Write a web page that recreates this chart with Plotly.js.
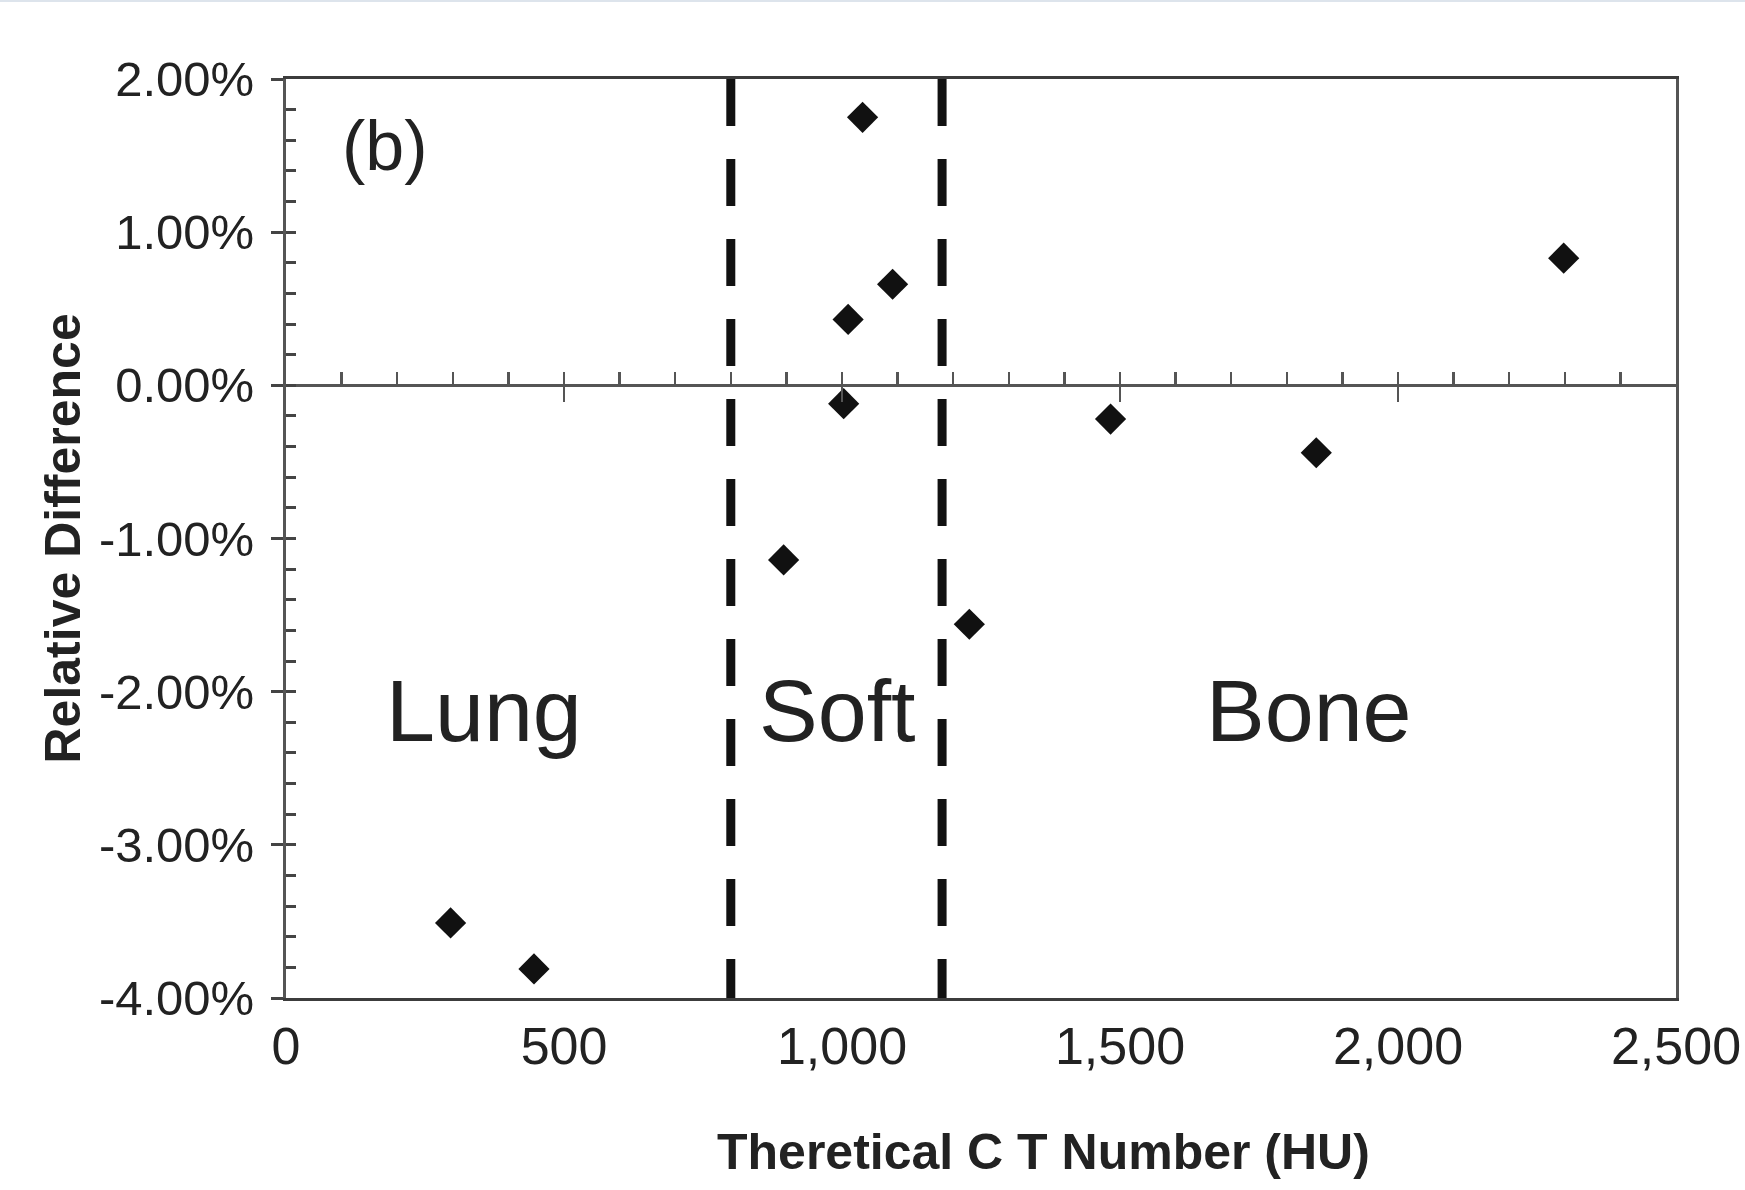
<!DOCTYPE html>
<html>
<head>
<meta charset="utf-8">
<script src="https://cdn.plot.ly/plotly-3.0.1.min.js"></script>
<style>
  html, body { margin: 0; padding: 0; background: #ffffff; }
  #wrap { position: relative; width: 1745px; height: 1190px; }
  #chart { width: 1745px; height: 1190px; }
  #topline { position: absolute; left: 0; top: 0; width: 1745px; height: 2px; background: #dde4ec; }
</style>
</head>
<body>
<div id="wrap">
  <div id="chart"></div>
  <div id="topline"></div>
</div>
<script>
// ---- data ----
const ctNumber = [296, 446, 895, 1003, 1011, 1037, 1091, 1229, 1483, 1853, 2298];
const relDiff  = [-3.51, -3.81, -1.14, -0.12, 0.43, 1.75, 0.66, -1.56, -0.22, -0.44, 0.83];
const regionBoundaries = [800, 1180];
const regionNames = ['Lung', 'Soft', 'Bone'];
const panelLabel = '(b)';
const xTickVals = [0, 500, 1000, 1500, 2000, 2500];
const xTickText = ['0', '500', '1,000', '1,500', '2,000', '2,500'];
const yTickVals = [-4, -3, -2, -1, 0, 1, 2];
const yTickText = ['-4.00%', '-3.00%', '-2.00%', '-1.00%', '0.00%', '1.00%', '2.00%'];
const xTitle = 'Theretical C T Number (HU)';
const yTitle = 'Relative Difference';

// ---- drawing ----
const FONT = 'Liberation Sans, Arial, Helvetica, sans-serif';
const xRange = [0, 2500];
const yRange = [-4, 2];
const zeroPos = (0 - yRange[0]) / (yRange[1] - yRange[0]);

const boundaryAxes = ['x2', 'x3'];
const traces = [];
regionBoundaries.forEach((b, i) => {
  traces.push({
    type: 'scatter', mode: 'lines',
    x: [b, b], y: [yRange[1], yRange[0]],
    xaxis: boundaryAxes[i], yaxis: 'y2',
    line: { color: '#111111', width: 9, dash: '47px,33px' },
    hoverinfo: 'skip', showlegend: false
  });
});
traces.push({
  type: 'scatter', mode: 'markers',
  x: ctNumber, y: relDiff, xaxis: 'x', yaxis: 'y',
  marker: { symbol: 'diamond', size: 24, color: '#111111', line: { width: 0 } },
  showlegend: false
});

const regionX = [357, 991, 1840];
const annotations = regionNames.map((t, i) => ({
  text: t, x: regionX[i], y: -2.12, xref: 'x', yref: 'y',
  showarrow: false, xanchor: 'center', yanchor: 'middle',
  font: { family: FONT, size: 88, color: '#222222' }
}));
annotations.push({
  text: panelLabel, x: 178, y: 1.56, xref: 'x', yref: 'y',
  showarrow: false, xanchor: 'center', yanchor: 'middle',
  font: { family: FONT, size: 70, color: '#222222' }
});
annotations.push({
  text: '<b>' + xTitle + '</b>', x: (1043 - 286) / 1390, y: (998 - 1152) / (998 - 79),
  xref: 'paper', yref: 'paper',
  showarrow: false, xanchor: 'center', yanchor: 'middle',
  font: { family: FONT, size: 50, color: '#222222' }
});
annotations.push({
  text: '<b>' + yTitle + '</b>', x: (62 - 286) / 1390, y: 0.5, xref: 'paper', yref: 'paper',
  textangle: -90, showarrow: false, xanchor: 'center', yanchor: 'middle',
  font: { family: FONT, size: 50, color: '#222222' }
});

const layout = {
  width: 1745, height: 1190,
  margin: { l: 286, r: 69, t: 79, b: 192, pad: 0 },
  paper_bgcolor: '#ffffff', plot_bgcolor: '#ffffff',
  showlegend: false,
  font: { family: FONT, color: '#222222' },
  xaxis: {
    range: xRange, domain: [0, 1], anchor: 'y',
    showline: true, linecolor: '#3c3c3c', linewidth: 3, mirror: true,
    showgrid: false, zeroline: false,
    ticks: '', tickmode: 'array', tickvals: xTickVals, ticktext: xTickText,
    tickfont: { family: FONT, size: 52, color: '#222222' },
    ticklabelstandoff: 1
  },
  yaxis: {
    range: yRange, domain: [0, 1], anchor: 'x',
    showline: true, linecolor: '#555555', linewidth: 3, mirror: true,
    showgrid: false, zeroline: false,
    ticks: 'outside', ticklen: 12, tickwidth: 3, tickcolor: '#444444',
    tickmode: 'array', tickvals: yTickVals, ticktext: yTickText,
    tickfont: { family: FONT, size: 49, color: '#222222' },
    ticklabelstandoff: 7
  },
  yaxis2: {
    range: yRange, overlaying: 'y', anchor: 'x', side: 'left',
    showline: false, showgrid: false, zeroline: false, showticklabels: false,
    ticks: 'inside', ticklen: 10, tickwidth: 3, tickcolor: '#444444',
    tickmode: 'linear', tick0: 0, dtick: 0.2
  },
  xaxis2: {
    range: xRange, overlaying: 'x', anchor: 'free', position: zeroPos, side: 'bottom',
    showline: true, linecolor: '#555555', linewidth: 3,
    showgrid: false, zeroline: false, showticklabels: false,
    ticks: 'inside', ticklen: 12, tickwidth: 2.5, tickcolor: '#555555',
    tickmode: 'linear', tick0: 0, dtick: 100
  },
  xaxis3: {
    range: xRange, overlaying: 'x', anchor: 'free', position: zeroPos, side: 'bottom',
    showline: false, showgrid: false, zeroline: false, showticklabels: false,
    ticks: 'outside', ticklen: 16, tickwidth: 2.5, tickcolor: '#555555',
    tickmode: 'array', tickvals: xTickVals.slice(1, -1)
  },
  annotations: annotations
};

Plotly.newPlot('chart', traces, layout, { staticPlot: true, displayModeBar: false });
</script>
</body>
</html>
